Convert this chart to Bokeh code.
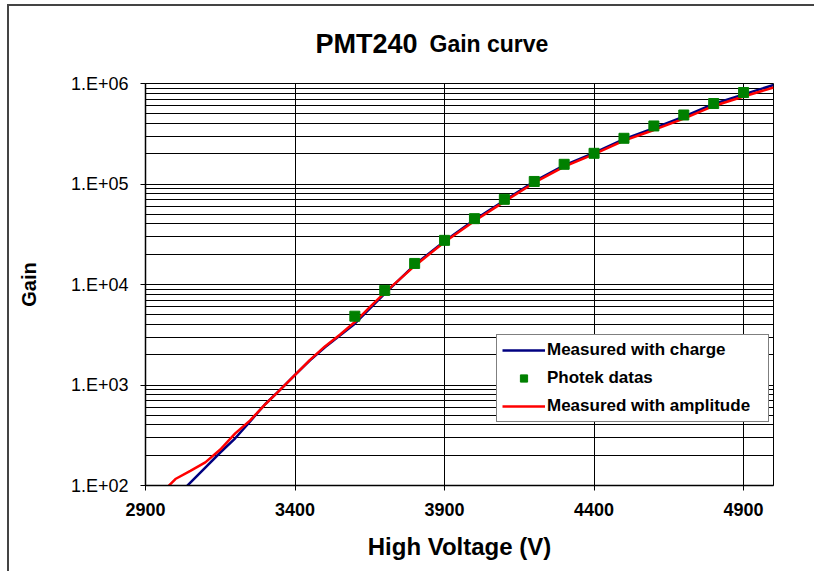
from bokeh.plotting import figure
from bokeh.models import FixedTicker, Label, Legend, LegendItem, ColumnDataSource
from bokeh.embed import file_html
from bokeh.resources import INLINE

# ---------------- data ----------------
hv_charge = [3000, 3050, 3100, 3150, 3200, 3250, 3300, 3350, 3400, 3450, 3500, 3550,
             3600, 3650, 3700, 3800, 3900, 4000, 4100, 4200, 4300, 4400, 4500, 4600,
             4700, 4800, 4900, 5000]
gain_charge = [75, 107, 151, 213, 295, 435, 643, 893, 1260, 1760, 2370, 3110,
               4070, 5750, 8130, 15700, 27000, 44000, 68500, 106000, 153000, 204000,
               280000, 360000, 468000, 625000, 780000, 965000]

hv_amplitude = [2950, 3000, 3050, 3100, 3150, 3200, 3250, 3300, 3350, 3400, 3450, 3500,
                3550, 3600, 3650, 3700, 3800, 3900, 4000, 4100, 4200, 4300, 4400, 4500,
                4600, 4700, 4800, 4900, 5000]
gain_amplitude = [82, 116, 140, 170, 228, 330, 445, 640, 895, 1260, 1780, 2420,
                  3160, 4230, 5950, 8300, 15300, 26500, 42800, 66800, 103000, 149000,
                  198000, 270000, 345000, 448000, 598000, 743000, 912000]

hv_photek = [3600, 3700, 3800, 3900, 4000, 4100, 4200, 4300, 4400, 4500, 4600, 4700,
             4800, 4900]
gain_photek = [4840, 8740, 16200, 27500, 45200, 70400, 106000, 157000, 202000, 285000,
               378000, 486000, 632000, 813000]

x_ticks = [2900, 3400, 3900, 4400, 4900]
y_ticks = [1e2, 1e3, 1e4, 1e5, 1e6]
y_tick_labels = ["1.E+02", "1.E+03", "1.E+04", "1.E+05", "1.E+06"]
series_names = ["Measured with charge", "Photek datas", "Measured with amplitude"]
title_main = "PMT240"
title_sub = "Gain curve"
x_title = "High Voltage (V)"
y_title = "Gain"

FONT = "Liberation Sans"

# ---------------- figure ----------------
W, H = 805, 565
FL, FT = 136, 77          # frame left/top in figure px
FW, FH = 628, 402
p = figure(width=W, height=H, output_backend="svg", toolbar_location=None,
           x_range=(2900, 5000), y_range=(100, 1e6), y_axis_type="log",
           frame_width=FW, frame_height=FH, title="",
           min_border_left=FL, min_border_top=FT,
           min_border_right=W - FL - FW, min_border_bottom=H - FT - FH)
p.title.standoff = 19

p.background_fill_color = "white"
p.border_fill_color = "white"
p.outline_line_color = "black"
p.outline_line_width = 1
p.styles = {"margin-left": "7px", "margin-top": "4px",
            "border-left": "2px solid #444444", "border-top": "2px solid #444444"}

minor = [k * 10 ** e for e in range(2, 6) for k in range(2, 10)]
p.yaxis.ticker = FixedTicker(ticks=y_ticks, minor_ticks=minor)
p.xaxis.ticker = FixedTicker(ticks=x_ticks)
p.yaxis.major_label_overrides = {t: l for t, l in zip(y_ticks, y_tick_labels)}

p.xgrid.grid_line_color = "black"
p.xgrid.grid_line_width = 1
p.ygrid.grid_line_color = "black"
p.ygrid.grid_line_width = 1
p.ygrid.minor_grid_line_color = "black"
p.ygrid.minor_grid_line_width = 1

for ax in (p.xaxis[0], p.yaxis[0]):
    ax.axis_line_color = "black"
    ax.axis_line_width = 1.5
    ax.major_tick_line_color = "black"
    ax.major_tick_in = 0
    ax.major_tick_out = 5
    ax.minor_tick_out = 0
    ax.minor_tick_in = 0
    ax.major_label_text_font = FONT
    ax.axis_label_text_font = FONT
    ax.axis_label_text_font_style = "bold"
    ax.axis_label_text_color = "black"
    ax.major_label_text_color = "black"

p.xaxis.major_label_text_font_style = "bold"
p.xaxis.major_label_text_font_size = "18px"
p.xaxis.major_label_standoff = 12
p.xaxis.axis_label = x_title
p.xaxis.axis_label_text_font_size = "24px"
p.xaxis.axis_label_standoff = 14

p.yaxis.major_label_text_font_style = "normal"
p.yaxis.major_label_text_font_size = "18px"
p.yaxis.major_label_standoff = 12
p.yaxis.axis_label = y_title
p.yaxis.axis_label_text_font_size = "20px"
p.yaxis.axis_label_standoff = 28

# ---------------- series ----------------
src_c = ColumnDataSource(dict(x=hv_charge, y=gain_charge))
src_a = ColumnDataSource(dict(x=hv_amplitude, y=gain_amplitude))
src_p = ColumnDataSource(dict(x=hv_photek, y=gain_photek))

r_c = p.line("x", "y", source=src_c, line_color="#000080", line_width=2.5)
r_a = p.line("x", "y", source=src_a, line_color="#FF0000", line_width=2.5)
r_p = p.scatter("x", "y", source=src_p, marker="square", size=10,
                fill_color="#008000", line_color="#008000")

legend = Legend(items=[LegendItem(label=series_names[0], renderers=[r_c]),
                       LegendItem(label=series_names[1], renderers=[r_p]),
                       LegendItem(label=series_names[2], renderers=[r_a])],
                location=(351, 63))
legend.label_text_font = FONT
legend.label_text_font_style = "bold"
legend.label_text_font_size = "17px"
legend.label_text_color = "black"
legend.glyph_width = 43
legend.glyph_height = 18
legend.label_height = 18
legend.label_width = 216
legend.label_standoff = 2
legend.spacing = 8
legend.padding = 5
legend.margin = 0
legend.border_line_color = "black"
legend.border_line_width = 1
legend.background_fill_color = "white"
legend.background_fill_alpha = 1
p.add_layout(legend, "center")

# ---------------- title in two sizes ----------------
t1 = Label(x=170, y=40, x_units="screen", y_units="screen", text=title_main,
           text_font=FONT, text_font_style="bold", text_font_size="27px",
           text_baseline="alphabetic", text_align="left", text_color="black")
t2 = Label(x=284, y=10, x_units="screen", y_units="screen", text=title_sub,
           text_font=FONT, text_font_style="bold", text_font_size="23px",
           text_baseline="alphabetic", text_align="left", text_color="black")
p.add_layout(t1, "above")
p.add_layout(t2, "above")

open("out.html", "w").write(file_html(p, INLINE))
